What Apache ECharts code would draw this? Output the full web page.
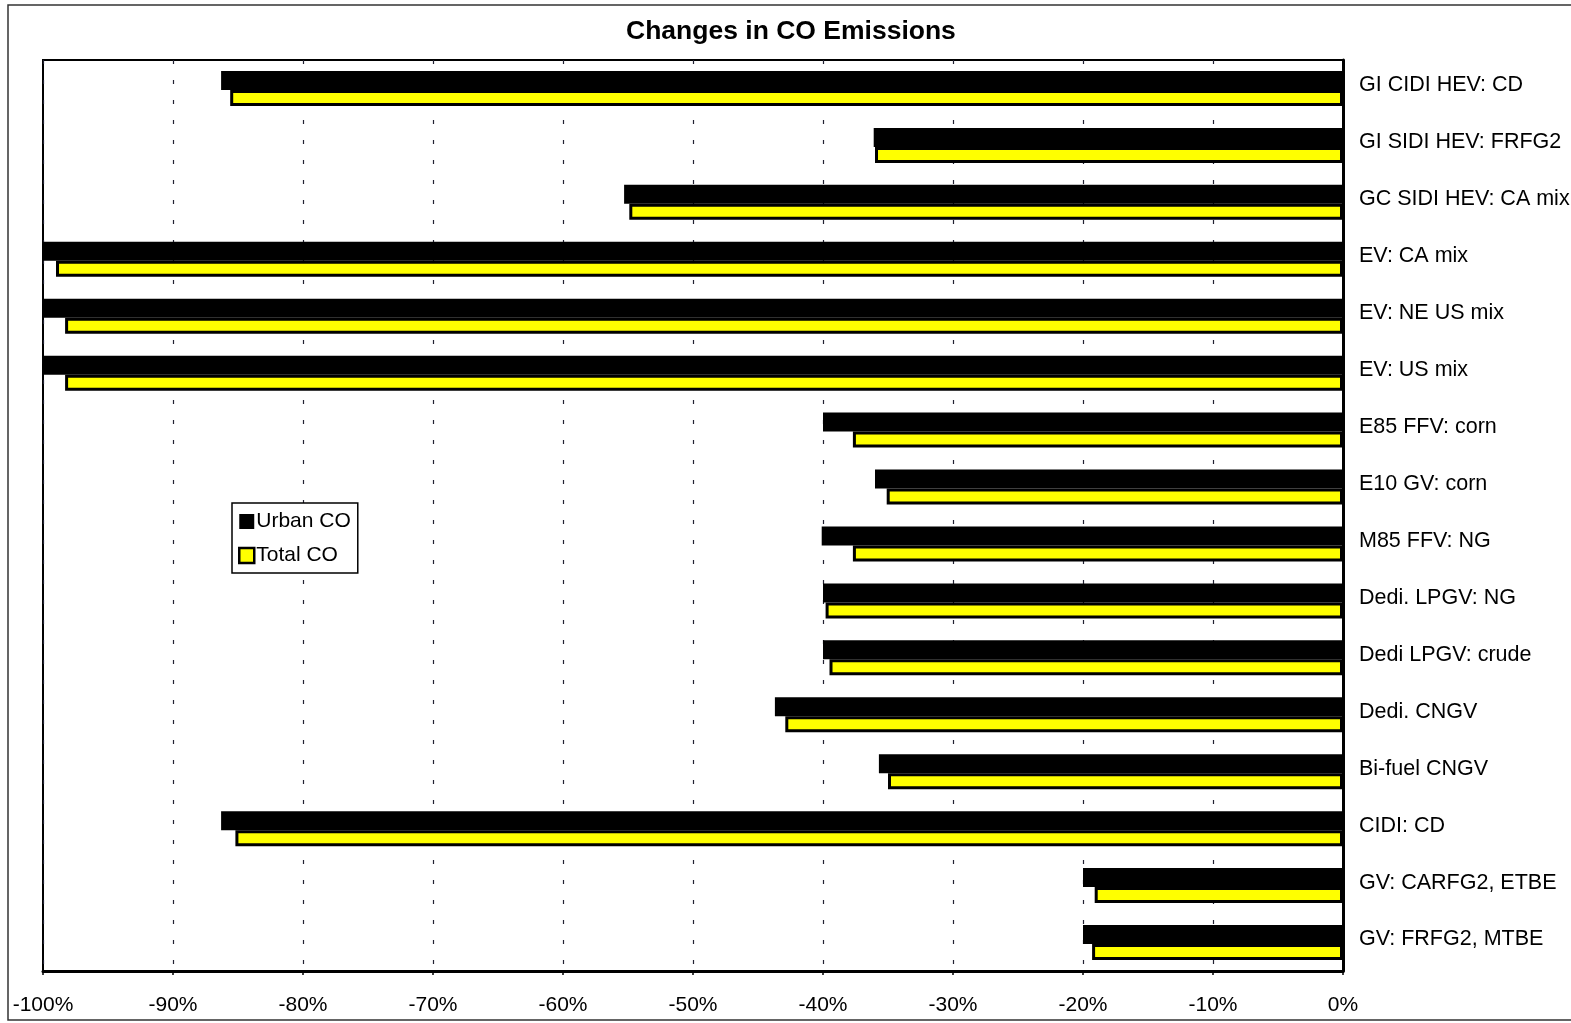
<!DOCTYPE html>
<html>
<head>
<meta charset="utf-8">
<script src="https://cdn.jsdelivr.net/npm/echarts@6/dist/echarts.min.js"></script>
<style>
html,body{margin:0;padding:0;background:#fff;}
#chart{width:1571px;height:1023px;}
</style>
</head>
<body>
<div id="chart"></div>
<script>
const categories = [
  'GI CIDI HEV: CD',
  'GI SIDI HEV: FRFG2',
  'GC SIDI HEV: CA mix',
  'EV: CA mix',
  'EV: NE US mix',
  'EV: US mix',
  'E85 FFV: corn',
  'E10 GV: corn',
  'M85 FFV: NG',
  'Dedi. LPGV: NG',
  'Dedi LPGV: crude',
  'Dedi. CNGV',
  'Bi-fuel CNGV',
  'CIDI: CD',
  'GV: CARFG2, ETBE',
  'GV: FRFG2, MTBE'
];
const urbanCO = [-86.3, -36.1, -55.3, -100, -100, -100, -40.0, -36.0, -40.1, -40.0, -40.0, -43.7, -35.7, -86.3, -20.0, -20.0];
const totalCO = [-85.6, -36.0, -54.9, -99.0, -98.3, -98.3, -37.7, -35.1, -37.7, -39.8, -39.5, -42.9, -35.0, -85.2, -19.1, -19.3];
const xTicks = { min: -100, max: 0, interval: 10 };

const chart = echarts.init(document.getElementById('chart'), null, { renderer: 'canvas' });
const FONT = '"Liberation Sans", Arial, sans-serif';
chart.setOption({
  backgroundColor: '#fff',
  animation: false,
  title: {
    text: 'Changes in CO Emissions',
    left: 621,
    top: 13,
    textStyle: { fontFamily: FONT, fontSize: 26.5, fontWeight: 'bold', color: '#000' }
  },
  graphic: [{
    type: 'rect',
    shape: { x: 8, y: 5, width: 1600, height: 1015 },
    style: { fill: 'none', stroke: '#333', lineWidth: 1.5 },
    silent: true, z: -10
  }],
  legend: {
    orient: 'vertical',
    left: 232,
    top: 503,
    backgroundColor: '#fff',
    borderColor: '#000',
    borderWidth: 1.5,
    borderRadius: 0,
    padding: [8, 7, 7, 6],
    itemGap: 13,
    itemWidth: 15,
    itemHeight: 15,
    icon: 'rect',
    textStyle: { fontFamily: FONT, fontSize: 21, color: '#000', padding: [0, 0, 0, -3] },
    data: [
      { name: 'Urban CO', itemStyle: { color: '#000' } },
      { name: 'Total CO', itemStyle: { color: '#ffff00', borderColor: '#000', borderWidth: 2.5 } }
    ]
  },
  grid: {
    left: 43, right: 228, top: 60, bottom: 52,
    containLabel: false,
    outerBoundsMode: 'none',
    show: true, borderColor: '#000', borderWidth: 2, backgroundColor: '#fff'
  },
  xAxis: {
    type: 'value',
    min: xTicks.min, max: xTicks.max, interval: xTicks.interval,
    axisLine: { show: true, lineStyle: { color: '#000', width: 3 } },
    axisTick: { show: true, length: 4, lineStyle: { color: '#000', width: 1.5 } },
    axisLabel: { formatter: '{value}%', fontFamily: FONT, fontSize: 21, color: '#000', margin: 24 },
    splitLine: { show: true, lineStyle: { color: '#223', width: 1.2, type: [4, 16] } }
  },
  yAxis: {
    type: 'category',
    data: categories,
    inverse: true,
    position: 'right',
    axisLine: { show: true, onZero: false, lineStyle: { color: '#000', width: 3 } },
    axisTick: { show: false },
    axisLabel: { fontFamily: FONT, fontSize: 21.5, color: '#000', margin: 16, verticalAlign: 'bottom', lineHeight: 6 },
    splitLine: { show: false }
  },
  series: [
    {
      name: 'Urban CO',
      type: 'bar',
      data: urbanCO,
      barWidth: 19,
      barGap: '0%',
      itemStyle: { color: '#000' }
    },
    {
      name: 'Total CO',
      type: 'bar',
      data: totalCO,
      barWidth: 16,
      barGap: '0%',
      itemStyle: { color: '#ffff00', borderColor: '#000', borderWidth: 3 }
    }
  ]
});
</script>
</body>
</html>
